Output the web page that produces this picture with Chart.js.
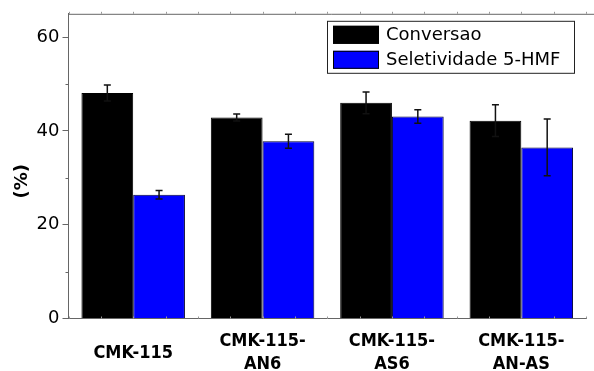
<!DOCTYPE html>
<html>
<head>
<meta charset="utf-8">
<script src="https://cdn.jsdelivr.net/npm/chart.js@4.4.1/dist/chart.umd.min.js"></script>
<style>
  html, body { margin: 0; padding: 0; background: #fff; }
  #wrap { width: 594px; height: 371px; position: relative; }
</style>
</head>
<body>
<div id="wrap"><canvas id="c" width="594" height="371"></canvas></div>
<script>
// Catalyst samples
const categories = ['CMK-115', ['CMK-115-', 'AN6'], ['CMK-115-', 'AS6'], ['CMK-115-', 'AN-AS']];
// Conversion (%) and its standard deviation
const conversao = [48.1, 42.9, 46.0, 42.2];
const conversaoErr = [1.7, 0.75, 2.3, 3.4];
// 5-HMF selectivity (%) and its standard deviation
const seletividade = [26.4, 37.8, 43.1, 36.5];
const seletividadeErr = [0.9, 1.5, 1.45, 6.05];
// Y axis range and labelled ticks
const yMin = 0, yMax = 65;
const yMajorTicks = [0, 20, 40, 60];

const AXIS = '#666666';
const FONT = '"DejaVu Sans", Verdana, sans-serif';
const FONT_COND = '"DejaVu Sans Condensed", "DejaVu Sans", sans-serif';

// Error bars, axis decorations, y title and boxed legend
const decorations = {
  id: 'decorations',
  afterDatasetsDraw(chart) {
    const ctx = chart.ctx;
    const y = chart.scales.y;
    ctx.save();
    ctx.strokeStyle = '#111';
    ctx.lineWidth = 1.5;
    chart.data.datasets.forEach((ds, di) => {
      const meta = chart.getDatasetMeta(di);
      meta.data.forEach((bar, i) => {
        const v = ds.data[i], e = ds.errors[i];
        const top = y.getPixelForValue(v + e);
        const bot = y.getPixelForValue(v - e);
        const cap = 3.5;
        ctx.beginPath();
        ctx.moveTo(bar.x, top); ctx.lineTo(bar.x, bot);
        ctx.moveTo(bar.x - cap, top); ctx.lineTo(bar.x + cap, top);
        ctx.moveTo(bar.x - cap, bot); ctx.lineTo(bar.x + cap, bot);
        ctx.stroke();
      });
    });
    ctx.restore();
  },
  afterDraw(chart) {
    const ctx = chart.ctx;
    const { left, right, top, bottom } = chart.chartArea;
    const x = chart.scales.x;
    const y = chart.scales.y;
    ctx.save();
    // top frame line
    ctx.strokeStyle = AXIS;
    ctx.lineWidth = 1;
    ctx.beginPath();
    ctx.moveTo(left, top + 0.5); ctx.lineTo(chart.width, top + 0.5);
    ctx.stroke();
    // small quarter-category ticks on top and bottom
    ctx.strokeStyle = '#999';
    for (let k = 0; k <= 16; k++) {
      const px = Math.round(x.getPixelForValue(-0.5 + k * 0.25)) + 0.5;
      ctx.beginPath();
      ctx.moveTo(px, top); ctx.lineTo(px, top - 2);
      ctx.moveTo(px, bottom); ctx.lineTo(px, bottom - 2);
      ctx.stroke();
    }
    // y minor ticks
    ctx.strokeStyle = AXIS;
    for (let v = 10; v < yMax; v += 20) {
      const py = Math.round(y.getPixelForValue(v)) + 0.5;
      ctx.beginPath();
      ctx.moveTo(left, py); ctx.lineTo(left - 3, py);
      ctx.stroke();
    }
    // y axis title
    ctx.fillStyle = '#000';
    ctx.font = 'bold 18px ' + FONT;
    ctx.textAlign = 'center';
    ctx.textBaseline = 'middle';
    ctx.translate(22, (top + bottom) / 2 + 15);
    ctx.rotate(-Math.PI / 2);
    ctx.fillText('(%)', 0, 0);
    ctx.restore();

    // legend box in the upper right of the plot
    ctx.save();
    const lx = right - 259, ly = top + 7, lw = 247, lh = 52;
    ctx.fillStyle = '#fff';
    ctx.fillRect(lx, ly, lw, lh);
    ctx.strokeStyle = '#222';
    ctx.lineWidth = 1;
    ctx.strokeRect(lx + 0.5, ly + 0.5, lw, lh);
    ctx.font = '18px ' + FONT;
    ctx.textAlign = 'left';
    ctx.textBaseline = 'middle';
    chart.data.datasets.forEach((ds, i) => {
      const sy = ly + 5 + i * 25;
      ctx.fillStyle = ds.backgroundColor;
      ctx.fillRect(lx + 6, sy, 46, 18);
      ctx.strokeStyle = '#000';
      ctx.strokeRect(lx + 6.5, sy + 0.5, 45, 17);
      ctx.fillStyle = '#000';
      ctx.fillText(ds.label, lx + 59, sy + 10);
    });
    ctx.restore();
  }
};

new Chart(document.getElementById('c'), {
  type: 'bar',
  data: {
    labels: categories,
    datasets: [
      { label: 'Conversao', data: conversao, errors: conversaoErr,
        backgroundColor: '#000000', borderColor: '#000000', borderWidth: 1 },
      { label: 'Seletividade 5-HMF', data: seletividade, errors: seletividadeErr,
        backgroundColor: '#0000ff', borderColor: '#000033', borderWidth: 1 }
    ]
  },
  options: {
    responsive: false,
    animation: false,
    devicePixelRatio: 1,
    layout: { padding: { top: 12, right: 8, left: 0, bottom: 0 } },
    datasets: { bar: { categoryPercentage: 0.8, barPercentage: 1.0 } },
    plugins: { legend: { display: false }, tooltip: { enabled: false } },
    scales: {
      x: {
        grid: { display: false },
        border: { display: true, color: AXIS, width: 1 },
        ticks: {
          color: '#000',
          font: { family: FONT_COND, size: 18, weight: 'bold', lineHeight: 1.28 },
          padding: 15,
          crossAlign: 'center',
          maxRotation: 0,
          autoSkip: false
        },
        afterFit(s) { s.height = 52.5; }
      },
      y: {
        min: yMin, max: yMax,
        afterBuildTicks(s) { s.ticks = yMajorTicks.map(v => ({ value: v })); },
        grid: { display: true, drawOnChartArea: false, tickLength: 6, color: AXIS },
        border: { display: true, color: AXIS, width: 1 },
        ticks: {
          color: '#000',
          font: { family: FONT, size: 18 },
          padding: 3
        },
        afterFit(s) { s.width = 68.5; }
      }
    }
  },
  plugins: [decorations]
});
</script>
</body>
</html>
